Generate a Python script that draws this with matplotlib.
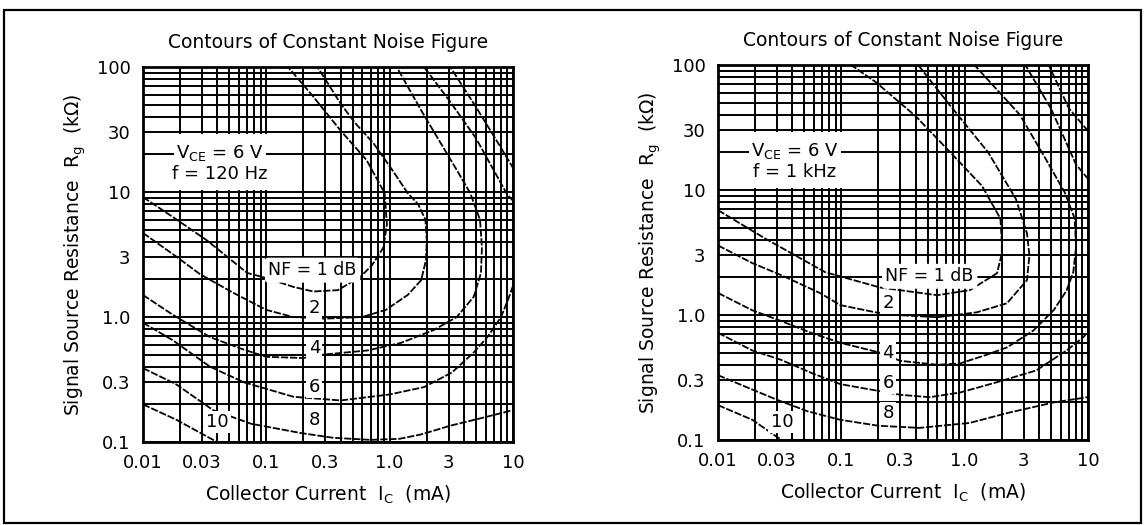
import matplotlib
matplotlib.use("Agg")
import matplotlib.pyplot as plt
from matplotlib.patches import Rectangle
from matplotlib.ticker import NullFormatter, FixedLocator, LogLocator

plt.rcParams['font.family'] = ['DejaVu Sans']
plt.rcParams['mathtext.default'] = 'regular'

# axis ticks
x_ticks = [0.01, 0.03, 0.1, 0.3, 1.0, 3, 10]
x_tick_labels = ["0.01", "0.03", "0.1", "0.3", "1.0", "3", "10"]
y_ticks = [0.1, 0.3, 1.0, 3, 10, 30, 100]
y_tick_labels = ["0.1", "0.3", "1.0", "3", "10", "30", "100"]

nf_levels = [1, 2, 4, 6, 8, 10]

# f = 120 Hz : collector current (mA) vs source resistance (kOhm)
ic_120_nf1 = [0.01, 0.0175, 0.033, 0.07, 0.1, 0.166, 0.24, 0.38, 0.58, 0.72, 0.89, 0.95, 0.91, 0.65, 0.4, 0.24, 0.15]
rg_120_nf1 = [9.1, 6.3, 4.1, 2.25, 2.05, 1.74, 1.6, 1.64, 2.1, 2.6, 3.6, 5.5, 9.8, 18.0, 31.0, 58.0, 100.0]
ic_120_nf2 = [0.01, 0.019, 0.029, 0.054, 0.1, 0.165, 0.3, 0.6, 0.93, 1.4, 1.8, 1.97, 2.0, 1.95, 1.7, 1.4, 1.05, 0.74, 0.52, 0.4, 0.26]
rg_120_nf2 = [4.7, 3.0, 2.2, 1.56, 1.14, 1.0, 0.97, 1.0, 1.14, 1.5, 1.97, 2.85, 4.1, 6.0, 8.0, 9.8, 15.0, 24.5, 36.0, 51.0, 100.0]
ic_120_nf4 = [0.01, 0.0175, 0.035, 0.065, 0.1, 0.2, 0.29, 0.66, 1.23, 2.3, 3.5, 4.8, 5.5, 5.6, 5.4, 4.5, 3.5, 2.6, 1.8, 1.14]
rg_120_nf4 = [1.5, 1.04, 0.69, 0.55, 0.48, 0.47, 0.5, 0.54, 0.62, 0.79, 1.0, 1.45, 2.25, 3.6, 6.0, 9.8, 15.0, 24.5, 45.0, 100.0]
ic_120_nf6 = [0.01, 0.0175, 0.035, 0.066, 0.166, 0.4, 1.0, 1.9, 3.2, 4.8, 6.2, 8.0, 9.1, 11.0, 13.0, 13.0, 9.0, 5.0, 3.0, 1.9]
rg_120_nf6 = [0.9, 0.65, 0.4, 0.3, 0.23, 0.215, 0.24, 0.275, 0.36, 0.52, 0.69, 1.0, 1.37, 2.3, 4.0, 6.5, 9.5, 27.0, 55.0, 100.0]
ic_120_nf8 = [0.01, 0.0185, 0.037, 0.075, 0.19, 0.35, 0.7, 1.2, 1.8, 3.1, 5.5, 10.0, 14.0, 16.0, 14.0, 7.5, 5.0, 3.1]
rg_120_nf8 = [0.39, 0.29, 0.18, 0.14, 0.118, 0.108, 0.104, 0.106, 0.115, 0.135, 0.155, 0.18, 0.3, 3.0, 9.0, 25.0, 48.0, 100.0]
ic_120_nf10 = [0.01, 0.0188, 0.037, 0.05]
rg_120_nf10 = [0.2, 0.15, 0.104, 0.09]

# f = 1 kHz
ic_1k_nf1 = [0.01, 0.024, 0.074, 0.206, 0.6, 1.1, 1.83, 2.0, 2.0, 1.95, 1.38, 0.73, 0.4, 0.19, 0.12]
rg_1k_nf1 = [6.9, 4.1, 2.2, 1.66, 1.44, 1.58, 2.16, 3.1, 3.9, 5.9, 10.8, 21.0, 39.0, 73.0, 100.0]
ic_1k_nf2 = [0.01, 0.019, 0.032, 0.067, 0.098, 0.19, 0.28, 0.6, 1.25, 2.2, 3.2, 3.35, 3.2, 2.6, 1.55, 0.73, 0.42]
rg_1k_nf2 = [3.6, 2.6, 2.1, 1.5, 1.2, 1.05, 1.0, 0.96, 1.05, 1.24, 1.9, 3.0, 4.5, 8.5, 20.0, 50.0, 100.0]
ic_1k_nf4 = [0.01, 0.019, 0.032, 0.059, 0.098, 0.205, 0.3, 0.6, 0.92, 1.5, 2.2, 3.6, 5.3, 6.7, 7.6, 8.0, 7.8, 6.5, 4.5, 2.8, 1.2]
rg_1k_nf4 = [1.5, 1.09, 0.9, 0.71, 0.6, 0.5, 0.43, 0.4, 0.41, 0.48, 0.55, 0.75, 1.1, 1.57, 2.2, 3.5, 5.9, 9.5, 18.0, 40.0, 100.0]
ic_1k_nf6 = [0.01, 0.019, 0.032, 0.059, 0.098, 0.3, 0.52, 0.92, 1.83, 3.8, 6.7, 9.1, 12.0, 14.0, 13.0, 8.0, 5.0, 3.1]
rg_1k_nf6 = [0.72, 0.52, 0.44, 0.34, 0.28, 0.23, 0.22, 0.24, 0.29, 0.36, 0.52, 0.66, 0.9, 3.0, 9.0, 16.0, 45.0, 100.0]
ic_1k_nf8 = [0.01, 0.017, 0.03, 0.053, 0.098, 0.2, 0.43, 1.1, 2.2, 5.3, 9.9, 14.0, 16.0, 14.0, 7.0, 4.8]
rg_1k_nf8 = [0.33, 0.265, 0.21, 0.17, 0.145, 0.13, 0.125, 0.137, 0.164, 0.2, 0.22, 0.4, 5.0, 20.0, 45.0, 100.0]
ic_1k_nf10 = [0.01, 0.019, 0.03, 0.04]
rg_1k_nf10 = [0.19, 0.145, 0.106, 0.09]

curves_120 = [(ic_120_nf1, rg_120_nf1), (ic_120_nf2, rg_120_nf2), (ic_120_nf4, rg_120_nf4),
              (ic_120_nf6, rg_120_nf6), (ic_120_nf8, rg_120_nf8), (ic_120_nf10, rg_120_nf10)]
curves_1k = [(ic_1k_nf1, rg_1k_nf1), (ic_1k_nf2, rg_1k_nf2), (ic_1k_nf4, rg_1k_nf4),
             (ic_1k_nf6, rg_1k_nf6), (ic_1k_nf8, rg_1k_nf8), (ic_1k_nf10, rg_1k_nf10)]

W, H = 1144, 525
fig = plt.figure(figsize=(W / 100, H / 100), dpi=100)

# outer frame
fig.patches.append(Rectangle((4 / W, 2 / H), 1137 / W, 513 / H, transform=fig.transFigure,
                             fill=False, ec='black', lw=1.6))


def panel(px_left, px_top, curves, freq_text, nf_lab_pos, num_lab_pos):
    ax = fig.add_axes([px_left / W, 1 - (px_top + 375) / H, 370 / W, 375 / H])
    ax.set_xscale('log')
    ax.set_yscale('log')
    ax.set_xlim(0.01, 10)
    ax.set_ylim(0.1, 100)

    ax.xaxis.set_major_locator(FixedLocator(x_ticks))
    ax.yaxis.set_major_locator(FixedLocator(y_ticks))
    ax.set_xticklabels(x_tick_labels)
    ax.set_yticklabels(y_tick_labels)
    ax.xaxis.set_minor_locator(LogLocator(base=10, subs=range(2, 10)))
    ax.yaxis.set_minor_locator(LogLocator(base=10, subs=range(2, 10)))
    ax.xaxis.set_minor_formatter(NullFormatter())
    ax.yaxis.set_minor_formatter(NullFormatter())
    ax.tick_params(which='both', length=0, labelsize=13)
    ax.tick_params(axis='x', pad=9)
    ax.tick_params(axis='y', pad=9)
    ax.grid(which='both', color='black', lw=1.4)
    for s in ax.spines.values():
        s.set_linewidth(2)

    # blank area behind the test conditions, with the 20 kOhm line running through
    ax.add_patch(Rectangle((0.0103, 10.4), 0.18 - 0.0103, 29 - 10.4, fc='white', ec='none', zorder=1.8))
    ax.plot([0.01, 0.18], [20, 20], color='black', lw=1.4, zorder=1.9)

    for ic, rg in curves:
        ax.plot(ic, rg, color='black', lw=1.3, ls=(0, (4, 1)), zorder=2.2)

    box = dict(boxstyle='square,pad=0.12', fc='white', ec='none')
    ax.text(0.042, 20.5, '$V_{CE}$ = 6 V', ha='center', va='center', fontsize=13, bbox=box, zorder=3)
    ax.text(0.042, 14, freq_text, ha='center', va='center', fontsize=13, bbox=box, zorder=3)
    ax.text(nf_lab_pos[0], nf_lab_pos[1], 'NF = 1 dB', ha='center', va='center', fontsize=12.5,
            bbox=dict(boxstyle='round,pad=0.2', fc='white', ec='none'), zorder=3)
    for lev, (lx, ly) in zip(nf_levels[1:], num_lab_pos):
        ax.text(lx, ly, str(lev), ha='center', va='center', fontsize=13, bbox=box, zorder=3)

    ax.text(0.5, 1 + 24 / 375, 'Contours of Constant Noise Figure', transform=ax.transAxes,
            ha='center', va='center', fontsize=13.5)
    ax.text(0.5, -53 / 375, 'Collector Current  $I_C$  (mA)', transform=ax.transAxes,
            ha='center', va='center', fontsize=13.5)
    ax.text(-68 / 370, 0.5, 'Signal Source Resistance  $R_g$  (k\u03a9)', transform=ax.transAxes,
            ha='center', va='center', rotation=90, fontsize=13.5)
    return ax


panel(143, 67, curves_120, 'f = 120 Hz', (0.237, 2.37),
      [(0.245, 1.17), (0.245, 0.56), (0.245, 0.275), (0.245, 0.15), (0.04, 0.145)])
panel(718, 65, curves_1k, 'f = 1 kHz', (0.52, 2.04),
      [(0.24, 1.24), (0.24, 0.5), (0.24, 0.285), (0.24, 0.164), (0.033, 0.14)])

fig.savefig('out.png', dpi=100)
